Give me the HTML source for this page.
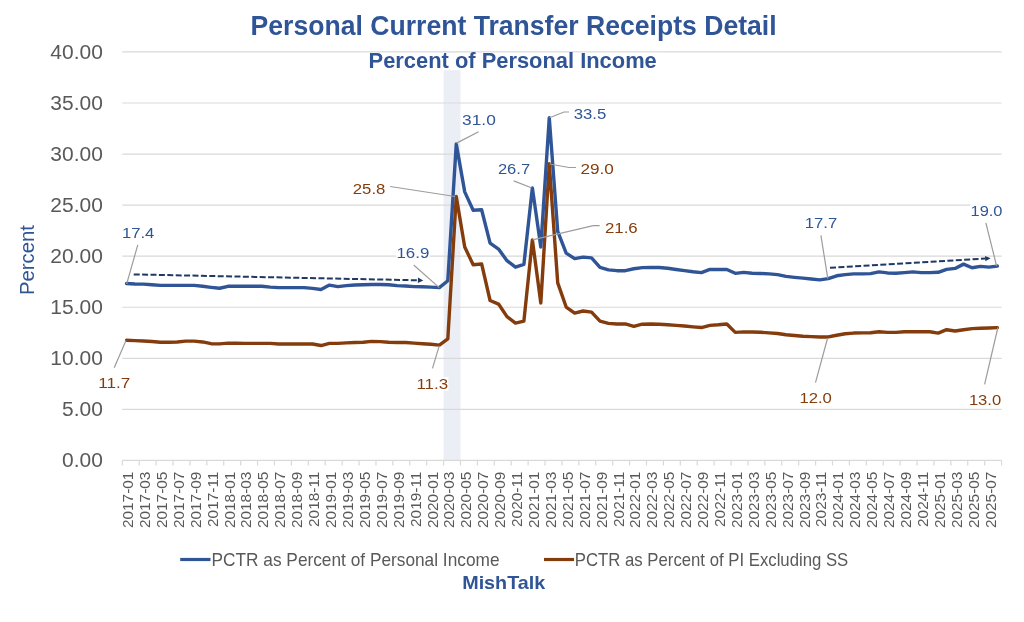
<!DOCTYPE html>
<html><head><meta charset="utf-8"><title>Personal Current Transfer Receipts Detail</title>
<style>html,body{margin:0;padding:0;background:#fff;}body{width:1024px;height:622px;overflow:hidden;}svg{display:block;will-change:transform;font-family:"Liberation Sans", sans-serif;}</style></head><body>
<svg width="1024" height="622" viewBox="0 0 1024 622">
<rect x="0" y="0" width="1024" height="622" fill="#fff"/>
<rect x="443.58" y="52" width="16.91" height="408.40" fill="#ECEEF5"/>
<line x1="122.30" y1="409.34" x2="1001.60" y2="409.34" stroke="#D9D9D9" stroke-width="1.2"/>
<line x1="122.30" y1="358.29" x2="1001.60" y2="358.29" stroke="#D9D9D9" stroke-width="1.2"/>
<line x1="122.30" y1="307.24" x2="1001.60" y2="307.24" stroke="#D9D9D9" stroke-width="1.2"/>
<line x1="122.30" y1="256.18" x2="1001.60" y2="256.18" stroke="#D9D9D9" stroke-width="1.2"/>
<line x1="122.30" y1="205.12" x2="1001.60" y2="205.12" stroke="#D9D9D9" stroke-width="1.2"/>
<line x1="122.30" y1="154.07" x2="1001.60" y2="154.07" stroke="#D9D9D9" stroke-width="1.2"/>
<line x1="122.30" y1="103.01" x2="1001.60" y2="103.01" stroke="#D9D9D9" stroke-width="1.2"/>
<line x1="122.30" y1="51.96" x2="1001.60" y2="51.96" stroke="#D9D9D9" stroke-width="1.2"/>
<line x1="122.30" y1="460.40" x2="1001.60" y2="460.40" stroke="#D9D9D9" stroke-width="1.3"/>
<path d="M122.30 460.40V465.40 M139.21 460.40V465.40 M156.12 460.40V465.40 M173.03 460.40V465.40 M189.94 460.40V465.40 M206.85 460.40V465.40 M223.76 460.40V465.40 M240.67 460.40V465.40 M257.58 460.40V465.40 M274.49 460.40V465.40 M291.40 460.40V465.40 M308.31 460.40V465.40 M325.22 460.40V465.40 M342.12 460.40V465.40 M359.03 460.40V465.40 M375.94 460.40V465.40 M392.85 460.40V465.40 M409.76 460.40V465.40 M426.67 460.40V465.40 M443.58 460.40V465.40 M460.49 460.40V465.40 M477.40 460.40V465.40 M494.31 460.40V465.40 M511.22 460.40V465.40 M528.13 460.40V465.40 M545.04 460.40V465.40 M561.95 460.40V465.40 M578.86 460.40V465.40 M595.77 460.40V465.40 M612.68 460.40V465.40 M629.59 460.40V465.40 M646.50 460.40V465.40 M663.41 460.40V465.40 M680.32 460.40V465.40 M697.23 460.40V465.40 M714.14 460.40V465.40 M731.05 460.40V465.40 M747.96 460.40V465.40 M764.87 460.40V465.40 M781.77 460.40V465.40 M798.68 460.40V465.40 M815.59 460.40V465.40 M832.50 460.40V465.40 M849.41 460.40V465.40 M866.32 460.40V465.40 M883.23 460.40V465.40 M900.14 460.40V465.40 M917.05 460.40V465.40 M933.96 460.40V465.40 M950.87 460.40V465.40 M967.78 460.40V465.40 M984.69 460.40V465.40 M1001.60 460.40V465.40" stroke="#D9D9D9" stroke-width="1.2" fill="none"/>
<text x="102.8" y="467.00" font-size="20" fill="#595959" text-anchor="end" textLength="40.79" lengthAdjust="spacingAndGlyphs">0.00</text>
<text x="102.8" y="415.94" font-size="20" fill="#595959" text-anchor="end" textLength="40.79" lengthAdjust="spacingAndGlyphs">5.00</text>
<text x="102.8" y="364.89" font-size="20" fill="#595959" text-anchor="end" textLength="52.44" lengthAdjust="spacingAndGlyphs">10.00</text>
<text x="102.8" y="313.84" font-size="20" fill="#595959" text-anchor="end" textLength="52.44" lengthAdjust="spacingAndGlyphs">15.00</text>
<text x="102.8" y="262.78" font-size="20" fill="#595959" text-anchor="end" textLength="52.44" lengthAdjust="spacingAndGlyphs">20.00</text>
<text x="102.8" y="211.72" font-size="20" fill="#595959" text-anchor="end" textLength="52.44" lengthAdjust="spacingAndGlyphs">25.00</text>
<text x="102.8" y="160.67" font-size="20" fill="#595959" text-anchor="end" textLength="52.44" lengthAdjust="spacingAndGlyphs">30.00</text>
<text x="102.8" y="109.61" font-size="20" fill="#595959" text-anchor="end" textLength="52.44" lengthAdjust="spacingAndGlyphs">35.00</text>
<text x="102.8" y="58.56" font-size="20" fill="#595959" text-anchor="end" textLength="52.44" lengthAdjust="spacingAndGlyphs">40.00</text>
<text transform="translate(34.0 260.0) rotate(-90)" font-size="20" fill="#2F5597" text-anchor="middle" textLength="70" lengthAdjust="spacingAndGlyphs">Percent</text>
<text transform="translate(133.13 471.6) rotate(-90)" font-size="15.4" fill="#595959" text-anchor="end">2017-01</text>
<text transform="translate(150.04 471.6) rotate(-90)" font-size="15.4" fill="#595959" text-anchor="end">2017-03</text>
<text transform="translate(166.95 471.6) rotate(-90)" font-size="15.4" fill="#595959" text-anchor="end">2017-05</text>
<text transform="translate(183.86 471.6) rotate(-90)" font-size="15.4" fill="#595959" text-anchor="end">2017-07</text>
<text transform="translate(200.77 471.6) rotate(-90)" font-size="15.4" fill="#595959" text-anchor="end">2017-09</text>
<text transform="translate(217.68 471.6) rotate(-90)" font-size="15.4" fill="#595959" text-anchor="end">2017-11</text>
<text transform="translate(234.59 471.6) rotate(-90)" font-size="15.4" fill="#595959" text-anchor="end">2018-01</text>
<text transform="translate(251.49 471.6) rotate(-90)" font-size="15.4" fill="#595959" text-anchor="end">2018-03</text>
<text transform="translate(268.40 471.6) rotate(-90)" font-size="15.4" fill="#595959" text-anchor="end">2018-05</text>
<text transform="translate(285.31 471.6) rotate(-90)" font-size="15.4" fill="#595959" text-anchor="end">2018-07</text>
<text transform="translate(302.22 471.6) rotate(-90)" font-size="15.4" fill="#595959" text-anchor="end">2018-09</text>
<text transform="translate(319.13 471.6) rotate(-90)" font-size="15.4" fill="#595959" text-anchor="end">2018-11</text>
<text transform="translate(336.04 471.6) rotate(-90)" font-size="15.4" fill="#595959" text-anchor="end">2019-01</text>
<text transform="translate(352.95 471.6) rotate(-90)" font-size="15.4" fill="#595959" text-anchor="end">2019-03</text>
<text transform="translate(369.86 471.6) rotate(-90)" font-size="15.4" fill="#595959" text-anchor="end">2019-05</text>
<text transform="translate(386.77 471.6) rotate(-90)" font-size="15.4" fill="#595959" text-anchor="end">2019-07</text>
<text transform="translate(403.68 471.6) rotate(-90)" font-size="15.4" fill="#595959" text-anchor="end">2019-09</text>
<text transform="translate(420.59 471.6) rotate(-90)" font-size="15.4" fill="#595959" text-anchor="end">2019-11</text>
<text transform="translate(437.50 471.6) rotate(-90)" font-size="15.4" fill="#595959" text-anchor="end">2020-01</text>
<text transform="translate(454.41 471.6) rotate(-90)" font-size="15.4" fill="#595959" text-anchor="end">2020-03</text>
<text transform="translate(471.32 471.6) rotate(-90)" font-size="15.4" fill="#595959" text-anchor="end">2020-05</text>
<text transform="translate(488.23 471.6) rotate(-90)" font-size="15.4" fill="#595959" text-anchor="end">2020-07</text>
<text transform="translate(505.14 471.6) rotate(-90)" font-size="15.4" fill="#595959" text-anchor="end">2020-09</text>
<text transform="translate(522.05 471.6) rotate(-90)" font-size="15.4" fill="#595959" text-anchor="end">2020-11</text>
<text transform="translate(538.96 471.6) rotate(-90)" font-size="15.4" fill="#595959" text-anchor="end">2021-01</text>
<text transform="translate(555.87 471.6) rotate(-90)" font-size="15.4" fill="#595959" text-anchor="end">2021-03</text>
<text transform="translate(572.78 471.6) rotate(-90)" font-size="15.4" fill="#595959" text-anchor="end">2021-05</text>
<text transform="translate(589.69 471.6) rotate(-90)" font-size="15.4" fill="#595959" text-anchor="end">2021-07</text>
<text transform="translate(606.60 471.6) rotate(-90)" font-size="15.4" fill="#595959" text-anchor="end">2021-09</text>
<text transform="translate(623.51 471.6) rotate(-90)" font-size="15.4" fill="#595959" text-anchor="end">2021-11</text>
<text transform="translate(640.42 471.6) rotate(-90)" font-size="15.4" fill="#595959" text-anchor="end">2022-01</text>
<text transform="translate(657.33 471.6) rotate(-90)" font-size="15.4" fill="#595959" text-anchor="end">2022-03</text>
<text transform="translate(674.24 471.6) rotate(-90)" font-size="15.4" fill="#595959" text-anchor="end">2022-05</text>
<text transform="translate(691.14 471.6) rotate(-90)" font-size="15.4" fill="#595959" text-anchor="end">2022-07</text>
<text transform="translate(708.05 471.6) rotate(-90)" font-size="15.4" fill="#595959" text-anchor="end">2022-09</text>
<text transform="translate(724.96 471.6) rotate(-90)" font-size="15.4" fill="#595959" text-anchor="end">2022-11</text>
<text transform="translate(741.87 471.6) rotate(-90)" font-size="15.4" fill="#595959" text-anchor="end">2023-01</text>
<text transform="translate(758.78 471.6) rotate(-90)" font-size="15.4" fill="#595959" text-anchor="end">2023-03</text>
<text transform="translate(775.69 471.6) rotate(-90)" font-size="15.4" fill="#595959" text-anchor="end">2023-05</text>
<text transform="translate(792.60 471.6) rotate(-90)" font-size="15.4" fill="#595959" text-anchor="end">2023-07</text>
<text transform="translate(809.51 471.6) rotate(-90)" font-size="15.4" fill="#595959" text-anchor="end">2023-09</text>
<text transform="translate(826.42 471.6) rotate(-90)" font-size="15.4" fill="#595959" text-anchor="end">2023-11</text>
<text transform="translate(843.33 471.6) rotate(-90)" font-size="15.4" fill="#595959" text-anchor="end">2024-01</text>
<text transform="translate(860.24 471.6) rotate(-90)" font-size="15.4" fill="#595959" text-anchor="end">2024-03</text>
<text transform="translate(877.15 471.6) rotate(-90)" font-size="15.4" fill="#595959" text-anchor="end">2024-05</text>
<text transform="translate(894.06 471.6) rotate(-90)" font-size="15.4" fill="#595959" text-anchor="end">2024-07</text>
<text transform="translate(910.97 471.6) rotate(-90)" font-size="15.4" fill="#595959" text-anchor="end">2024-09</text>
<text transform="translate(927.88 471.6) rotate(-90)" font-size="15.4" fill="#595959" text-anchor="end">2024-11</text>
<text transform="translate(944.79 471.6) rotate(-90)" font-size="15.4" fill="#595959" text-anchor="end">2025-01</text>
<text transform="translate(961.70 471.6) rotate(-90)" font-size="15.4" fill="#595959" text-anchor="end">2025-03</text>
<text transform="translate(978.61 471.6) rotate(-90)" font-size="15.4" fill="#595959" text-anchor="end">2025-05</text>
<text transform="translate(995.52 471.6) rotate(-90)" font-size="15.4" fill="#595959" text-anchor="end">2025-07</text>
<polyline points="126.53,340.22 134.98,340.62 143.44,340.93 151.89,341.54 160.35,342.26 168.80,342.26 177.26,341.95 185.71,341.14 194.17,341.14 202.62,341.95 211.08,343.69 219.53,343.89 227.99,343.08 236.44,343.28 244.89,343.38 253.35,343.38 261.80,343.38 270.26,343.38 278.71,343.99 287.17,343.99 295.62,343.99 304.08,343.99 312.53,343.99 320.99,345.53 329.44,343.38 337.90,343.38 346.35,342.87 354.81,342.46 363.26,342.26 371.72,341.34 380.17,341.65 388.63,342.26 397.08,342.57 405.54,342.57 413.99,343.08 422.45,343.69 430.90,344.30 439.36,345.12 447.81,338.99 456.26,196.45 464.72,246.99 473.17,264.76 481.63,263.94 490.08,300.50 498.54,304.07 506.99,316.63 515.45,323.06 523.90,321.12 532.36,239.84 540.81,302.95 549.27,163.77 557.72,282.93 566.18,307.03 574.63,313.06 583.09,311.01 591.54,312.14 600.00,321.12 608.45,323.37 616.91,323.98 625.36,323.98 633.82,326.33 642.27,324.19 650.73,323.98 659.18,324.19 667.64,324.80 676.09,325.41 684.54,326.02 693.00,326.84 701.45,327.55 709.91,325.41 718.36,324.80 726.82,323.98 735.27,332.35 743.73,331.84 752.18,332.05 760.64,332.25 769.09,332.86 777.55,333.48 786.00,334.70 794.46,335.52 802.91,336.23 811.37,336.64 819.82,336.95 828.28,336.95 836.73,335.21 845.19,333.78 853.64,333.07 862.10,332.86 870.55,332.76 879.01,331.74 887.46,332.35 895.91,332.35 904.37,331.74 912.82,331.74 921.28,331.74 929.73,331.74 938.19,333.07 946.64,329.70 955.10,331.03 963.55,329.70 972.01,328.58 980.46,328.27 988.92,327.96 997.37,327.66" fill="none" stroke="#843C0C" stroke-width="3.4" stroke-linejoin="round" stroke-linecap="round"/>
<polyline points="126.53,283.55 134.98,283.95 143.44,284.16 151.89,284.77 160.35,285.38 168.80,285.38 177.26,285.38 185.71,285.38 194.17,285.38 202.62,286.30 211.08,287.32 219.53,288.24 227.99,286.30 236.44,286.30 244.89,286.30 253.35,286.30 261.80,286.30 270.26,287.12 278.71,287.63 287.17,287.63 295.62,287.63 304.08,287.63 312.53,288.34 320.99,289.47 329.44,285.08 337.90,286.61 346.35,285.59 354.81,284.98 363.26,284.77 371.72,284.57 380.17,284.57 388.63,284.77 397.08,285.59 405.54,286.00 413.99,286.61 422.45,286.81 430.90,287.12 439.36,287.63 447.81,280.69 456.26,143.86 464.72,191.85 473.17,210.23 481.63,209.72 490.08,243.11 498.54,249.03 506.99,260.67 515.45,267.21 523.90,264.35 532.36,187.87 540.81,246.99 549.27,117.82 557.72,231.37 566.18,253.12 574.63,258.63 583.09,257.10 591.54,257.92 600.00,267.41 608.45,269.86 616.91,270.68 625.36,270.68 633.82,268.74 642.27,267.62 650.73,267.51 659.18,267.51 667.64,268.23 676.09,269.45 684.54,270.68 693.00,271.80 701.45,272.62 709.91,269.45 718.36,269.45 726.82,269.45 735.27,273.33 743.73,272.42 752.18,273.23 760.64,273.44 769.09,273.85 777.55,274.66 786.00,276.40 794.46,277.32 802.91,278.13 811.37,278.95 819.82,279.87 828.28,278.64 836.73,275.79 845.19,274.66 853.64,273.85 862.10,273.85 870.55,273.64 879.01,271.90 887.46,272.93 895.91,273.23 904.37,272.62 912.82,271.90 921.28,272.62 929.73,272.62 938.19,272.31 946.64,269.35 955.10,268.43 963.55,264.14 972.01,267.72 980.46,266.39 988.92,267.11 997.37,266.08" fill="none" stroke="#2F5597" stroke-width="3.4" stroke-linejoin="round" stroke-linecap="round"/>
<line x1="133.70" y1="274.40" x2="418.40" y2="280.30" stroke="#203864" stroke-width="2" stroke-dasharray="6 2.4"/><polygon points="423.30,280.40 417.85,282.99 417.96,277.59" fill="#203864"/>
<line x1="830.00" y1="267.80" x2="985.71" y2="258.59" stroke="#203864" stroke-width="2" stroke-dasharray="6 2.4"/><polygon points="990.60,258.30 985.37,261.31 985.05,255.92" fill="#203864"/>
<polyline points="137.80,244.80 126.70,283.80" fill="none" stroke="#9C9C9C" stroke-width="1.2"/>
<polyline points="413.70,265.00 439.20,287.60" fill="none" stroke="#9C9C9C" stroke-width="1.2"/>
<polyline points="478.60,131.70 456.60,143.10" fill="none" stroke="#9C9C9C" stroke-width="1.2"/>
<polyline points="513.70,180.90 531.40,187.80" fill="none" stroke="#9C9C9C" stroke-width="1.2"/>
<polyline points="569.00,112.00 564.00,112.00 549.50,117.70" fill="none" stroke="#9C9C9C" stroke-width="1.2"/>
<polyline points="576.00,167.50 569.00,167.50 549.60,164.00" fill="none" stroke="#9C9C9C" stroke-width="1.2"/>
<polyline points="599.70,225.70 593.20,225.70 532.60,239.80" fill="none" stroke="#9C9C9C" stroke-width="1.2"/>
<polyline points="390.20,186.50 455.00,196.50" fill="none" stroke="#9C9C9C" stroke-width="1.2"/>
<polyline points="820.90,235.30 827.80,278.70" fill="none" stroke="#9C9C9C" stroke-width="1.2"/>
<polyline points="985.90,223.00 996.60,266.00" fill="none" stroke="#9C9C9C" stroke-width="1.2"/>
<polyline points="114.20,367.70 126.00,340.40" fill="none" stroke="#9C9C9C" stroke-width="1.2"/>
<polyline points="432.50,368.40 439.20,345.80" fill="none" stroke="#9C9C9C" stroke-width="1.2"/>
<polyline points="815.50,382.70 827.60,338.00" fill="none" stroke="#9C9C9C" stroke-width="1.2"/>
<polyline points="984.60,384.40 997.90,327.50" fill="none" stroke="#9C9C9C" stroke-width="1.2"/>
<rect x="121.80" y="226.10" width="32.90" height="13.6" fill="#fff"/>
<text x="121.90" y="238.20" font-size="15.5" fill="#2F5597" textLength="32.50" lengthAdjust="spacingAndGlyphs">17.4</text>
<rect x="396.40" y="245.90" width="33.20" height="13.6" fill="#fff"/>
<text x="396.50" y="258.00" font-size="15.5" fill="#2F5597" textLength="32.80" lengthAdjust="spacingAndGlyphs">16.9</text>
<rect x="462.00" y="113.10" width="34.10" height="13.6" fill="#fff"/>
<text x="462.10" y="125.20" font-size="15.5" fill="#2F5597" textLength="33.70" lengthAdjust="spacingAndGlyphs">31.0</text>
<rect x="497.80" y="161.90" width="32.60" height="13.6" fill="#fff"/>
<text x="497.90" y="174.00" font-size="15.5" fill="#2F5597" textLength="32.20" lengthAdjust="spacingAndGlyphs">26.7</text>
<rect x="573.60" y="107.00" width="33.00" height="13.6" fill="#fff"/>
<text x="573.70" y="119.10" font-size="15.5" fill="#2F5597" textLength="32.60" lengthAdjust="spacingAndGlyphs">33.5</text>
<rect x="804.70" y="216.30" width="32.80" height="13.6" fill="#fff"/>
<text x="804.80" y="228.40" font-size="15.5" fill="#2F5597" textLength="32.40" lengthAdjust="spacingAndGlyphs">17.7</text>
<rect x="970.40" y="204.30" width="32.40" height="13.6" fill="#fff"/>
<text x="970.50" y="216.40" font-size="15.5" fill="#2F5597" textLength="32.00" lengthAdjust="spacingAndGlyphs">19.0</text>
<rect x="352.70" y="181.40" width="33.00" height="13.6" fill="#fff"/>
<text x="352.80" y="193.50" font-size="15.5" fill="#843C0C" textLength="32.60" lengthAdjust="spacingAndGlyphs">25.8</text>
<rect x="580.50" y="162.20" width="33.70" height="13.6" fill="#fff"/>
<text x="580.60" y="174.30" font-size="15.5" fill="#843C0C" textLength="33.30" lengthAdjust="spacingAndGlyphs">29.0</text>
<rect x="604.80" y="220.40" width="33.20" height="13.6" fill="#fff"/>
<text x="604.90" y="232.50" font-size="15.5" fill="#843C0C" textLength="32.80" lengthAdjust="spacingAndGlyphs">21.6</text>
<rect x="98.20" y="376.20" width="32.40" height="13.6" fill="#fff"/>
<text x="98.30" y="388.30" font-size="15.5" fill="#843C0C" textLength="32.00" lengthAdjust="spacingAndGlyphs">11.7</text>
<rect x="416.30" y="376.90" width="32.10" height="13.6" fill="#fff"/>
<text x="416.40" y="389.00" font-size="15.5" fill="#843C0C" textLength="31.70" lengthAdjust="spacingAndGlyphs">11.3</text>
<rect x="799.30" y="390.90" width="32.90" height="13.6" fill="#fff"/>
<text x="799.40" y="403.00" font-size="15.5" fill="#843C0C" textLength="32.50" lengthAdjust="spacingAndGlyphs">12.0</text>
<rect x="968.80" y="392.90" width="32.70" height="13.6" fill="#fff"/>
<text x="968.90" y="405.00" font-size="15.5" fill="#843C0C" textLength="32.30" lengthAdjust="spacingAndGlyphs">13.0</text>
<text x="250.6" y="35" font-size="28" font-weight="bold" fill="#2F5597" textLength="526" lengthAdjust="spacingAndGlyphs">Personal Current Transfer Receipts Detail</text>
<rect x="366" y="52.8" width="294" height="17.4" fill="#fff"/>
<text x="368.6" y="67.6" font-size="21.5" font-weight="bold" fill="#2F5597" textLength="288.2" lengthAdjust="spacingAndGlyphs">Percent of Personal Income</text>
<line x1="180.2" y1="559.5" x2="210.5" y2="559.5" stroke="#2F5597" stroke-width="3.2"/>
<text x="211.5" y="566" font-size="18.2" fill="#595959" textLength="288" lengthAdjust="spacingAndGlyphs">PCTR as Percent of Personal Income</text>
<line x1="544.0" y1="559.5" x2="574.0" y2="559.5" stroke="#843C0C" stroke-width="3.2"/>
<text x="574.8" y="566" font-size="18.2" fill="#595959" textLength="273.5" lengthAdjust="spacingAndGlyphs">PCTR as Percent of PI Excluding SS</text>
<text x="462.2" y="589.2" font-size="18.4" font-weight="bold" fill="#2F5597" textLength="83" lengthAdjust="spacingAndGlyphs">MishTalk</text>
</svg></body></html>
